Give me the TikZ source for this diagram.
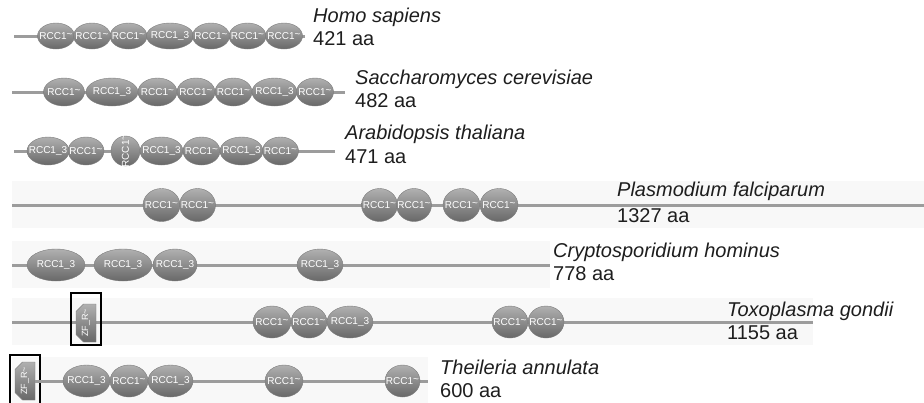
\documentclass[tikz,border=0pt]{standalone}
\usepackage{fontspec}
\setmainfont{Liberation Sans}
\usetikzlibrary{shapes.geometric,shapes.misc}
\definecolor{cline}{HTML}{9C9C9C}
\definecolor{cband}{HTML}{F8F8F8}
\definecolor{cdomtop}{HTML}{B0B0B0}
\definecolor{cdombot}{HTML}{686868}
\definecolor{cdomline}{HTML}{7C7C7C}
\definecolor{ctext}{HTML}{1E1E1E}
\newcommand{\dn}[1]{\makebox[0pt]{#1}}
\newcommand{\rcct}{\dn{RCC1\raisebox{0.45ex}{\textasciitilde}}}
\newcommand{\rcch}{\dn{RCC1\_3}}

\begin{document}
\begin{tikzpicture}[x=1pt,y=-1pt,
  dom/.style={ellipse, inner sep=0, top color=cdomtop, bottom color=cdombot, draw=cdomline, line width=0.4pt, text=white, font=\fontsize{10}{10}\selectfont},
  zf/.style={chamfered rectangle, chamfered rectangle corners={north west,north east}, chamfered rectangle xsep=5pt, rotate=90, inner sep=0, minimum width=38, minimum height=20, top color=cdomtop, bottom color=cdombot, draw=cdomline, line width=0.4pt, text=white, font=\fontsize{9}{9}\selectfont},
  prot/.style={line width=3pt, draw=cline},
  band/.style={fill=cband, draw=none},
  zfbox/.style={draw=black, line width=1.5pt},
  sp/.style={anchor=base west, font=\fontsize{20}{22}\selectfont\itshape, text=ctext, inner sep=0},
  len/.style={anchor=base west, font=\fontsize{20}{22}\selectfont, text=ctext, inner sep=0}]

\useasboundingbox (0,0) rectangle (924,402);
\clip (0,0) rectangle (924,402);

% shaded rows
\fill[band] (12,181) rectangle (924,228);
\fill[band] (12,241) rectangle (550,288);
\fill[band] (12,298) rectangle (813,345);
\fill[band] (12,357) rectangle (428,404);

% Homo sapiens
\coordinate (hs-start) at (14,36);
\coordinate (hs-end) at (305,36);
\draw[prot] (hs-start) -- (hs-end);
\node[dom, minimum width=37, minimum height=26] (hs1) at (56,36) {\rcct};
\node[dom, minimum width=37, minimum height=26] (hs2) at (92,36) {\rcct};
\node[dom, minimum width=37, minimum height=26] (hs3) at (128.5,36) {\rcct};
\node[dom, minimum width=47, minimum height=26] (hs4) at (170,36) {\rcch};
\node[dom, minimum width=37, minimum height=26] (hs5) at (211,36) {\rcct};
\node[dom, minimum width=37, minimum height=26] (hs6) at (247.5,36) {\rcct};
\node[dom, minimum width=37, minimum height=26] (hs7) at (284,36) {\rcct};
\node[sp] (hs-name) at (313,22) {Homo sapiens};
\node[len] (hs-len) at (313,45) {421 aa};

% Saccharomyces cerevisiae
\coordinate (sc-start) at (12,92);
\coordinate (sc-end) at (345,92);
\draw[prot] (sc-start) -- (sc-end);
\node[dom, minimum width=41, minimum height=28] (sc1) at (64,92) {\rcct};
\node[dom, minimum width=52, minimum height=28] (sc2) at (112,92) {\rcch};
\node[dom, minimum width=39, minimum height=28] (sc3) at (157.5,92) {\rcct};
\node[dom, minimum width=38, minimum height=28] (sc4) at (196,92) {\rcct};
\node[dom, minimum width=37, minimum height=28] (sc5) at (233.5,92) {\rcct};
\node[dom, minimum width=45, minimum height=28] (sc6) at (274.5,92) {\rcch};
\node[dom, minimum width=37, minimum height=28] (sc7) at (315,92) {\rcct};
\node[sp] (sc-name) at (355,84) {Saccharomyces cerevisiae};
\node[len] (sc-len) at (355,107) {482 aa};

% Arabidopsis thaliana
\coordinate (at-start) at (14,151);
\coordinate (at-end) at (335,151);
\draw[prot] (at-start) -- (at-end);
\node[dom, minimum width=42, minimum height=28] (at1) at (48,151) {\rcch};
\node[dom, minimum width=36, minimum height=28] (at2) at (86,151) {\rcct};
\node[dom, minimum width=30, minimum height=29, rotate=90] (at3) at (125.5,151) {\rcct};
\node[dom, minimum width=43, minimum height=28] (at4) at (161.5,151) {\rcch};
\node[dom, minimum width=37, minimum height=28] (at5) at (201.5,151) {\rcct};
\node[dom, minimum width=43, minimum height=28] (at6) at (241.5,151) {\rcch};
\node[dom, minimum width=36, minimum height=28] (at7) at (280.5,151) {\rcct};
\node[sp] (at-name) at (345,139) {Arabidopsis thaliana};
\node[len] (at-len) at (345,163) {471 aa};

% Plasmodium falciparum
\coordinate (pf-start) at (12,205);
\coordinate (pf-end) at (924,205);
\draw[prot] (pf-start) -- (pf-end);
\node[dom, minimum width=37, minimum height=33] (pf1) at (161.5,205) {\rcct};
\node[dom, minimum width=36, minimum height=33] (pf2) at (197.5,205) {\rcct};
\node[dom, minimum width=36, minimum height=33] (pf3) at (379.5,205) {\rcct};
\node[dom, minimum width=35, minimum height=33] (pf4) at (414,205) {\rcct};
\node[dom, minimum width=37, minimum height=33] (pf5) at (461.5,205) {\rcct};
\node[dom, minimum width=38, minimum height=33] (pf6) at (499,205) {\rcct};
\node[sp] (pf-name) at (617,196) {Plasmodium falciparum};
\node[len] (pf-len) at (617,222) {1327 aa};

% Cryptosporidium hominus
\coordinate (ch-start) at (12,265);
\coordinate (ch-end) at (550,265);
\draw[prot] (ch-start) -- (ch-end);
\node[dom, minimum width=58, minimum height=32] (ch1) at (56,265) {\rcch};
\node[dom, minimum width=58, minimum height=32] (ch2) at (123,265) {\rcch};
\node[dom, minimum width=44, minimum height=32] (ch3) at (175,265) {\rcch};
\node[dom, minimum width=46, minimum height=32] (ch4) at (320,265) {\rcch};
\node[sp] (ch-name) at (553,257) {Cryptosporidium hominus};
\node[len] (ch-len) at (553,280) {778 aa};

% Toxoplasma gondii
\coordinate (tg-start) at (12,322);
\coordinate (tg-end) at (813,322);
\draw[prot] (tg-start) -- (tg-end);
\draw[zfbox] (71,293) rectangle (101,345);
\node[zf] (tg0) at (86,323) {ZF\_R\textasciitilde};
\node[dom, minimum width=38, minimum height=32] (tg1) at (272,322) {\rcct};
\node[dom, minimum width=36, minimum height=32] (tg2) at (309,322) {\rcct};
\node[dom, minimum width=46, minimum height=32] (tg3) at (350,322) {\rcch};
\node[dom, minimum width=36, minimum height=32] (tg4) at (510,322) {\rcct};
\node[dom, minimum width=36, minimum height=32] (tg5) at (546,322) {\rcct};
\node[sp] (tg-name) at (727,316) {Toxoplasma gondii};
\node[len] (tg-len) at (727,339) {1155 aa};

% Theileria annulata
\coordinate (ta-end) at (428,381);
\draw[zfbox] (10,355) rectangle (40,410);
\node[zf] (ta0) at (25,381) {ZF\_R\textasciitilde};
\draw[prot] (ta0) -- (ta-end);
\node[dom, minimum width=47, minimum height=32] (ta1) at (86.5,381) {\rcch};
\node[dom, minimum width=38, minimum height=32] (ta2) at (129,381) {\rcct};
\node[dom, minimum width=45, minimum height=32] (ta3) at (170.5,381) {\rcch};
\node[dom, minimum width=38, minimum height=32] (ta4) at (284,381) {\rcct};
\node[dom, minimum width=35, minimum height=32] (ta5) at (402.5,381) {\rcct};
\node[sp] (ta-name) at (440,374) {Theileria annulata};
\node[len] (ta-len) at (440,397) {600 aa};
\end{tikzpicture}
\end{document}
